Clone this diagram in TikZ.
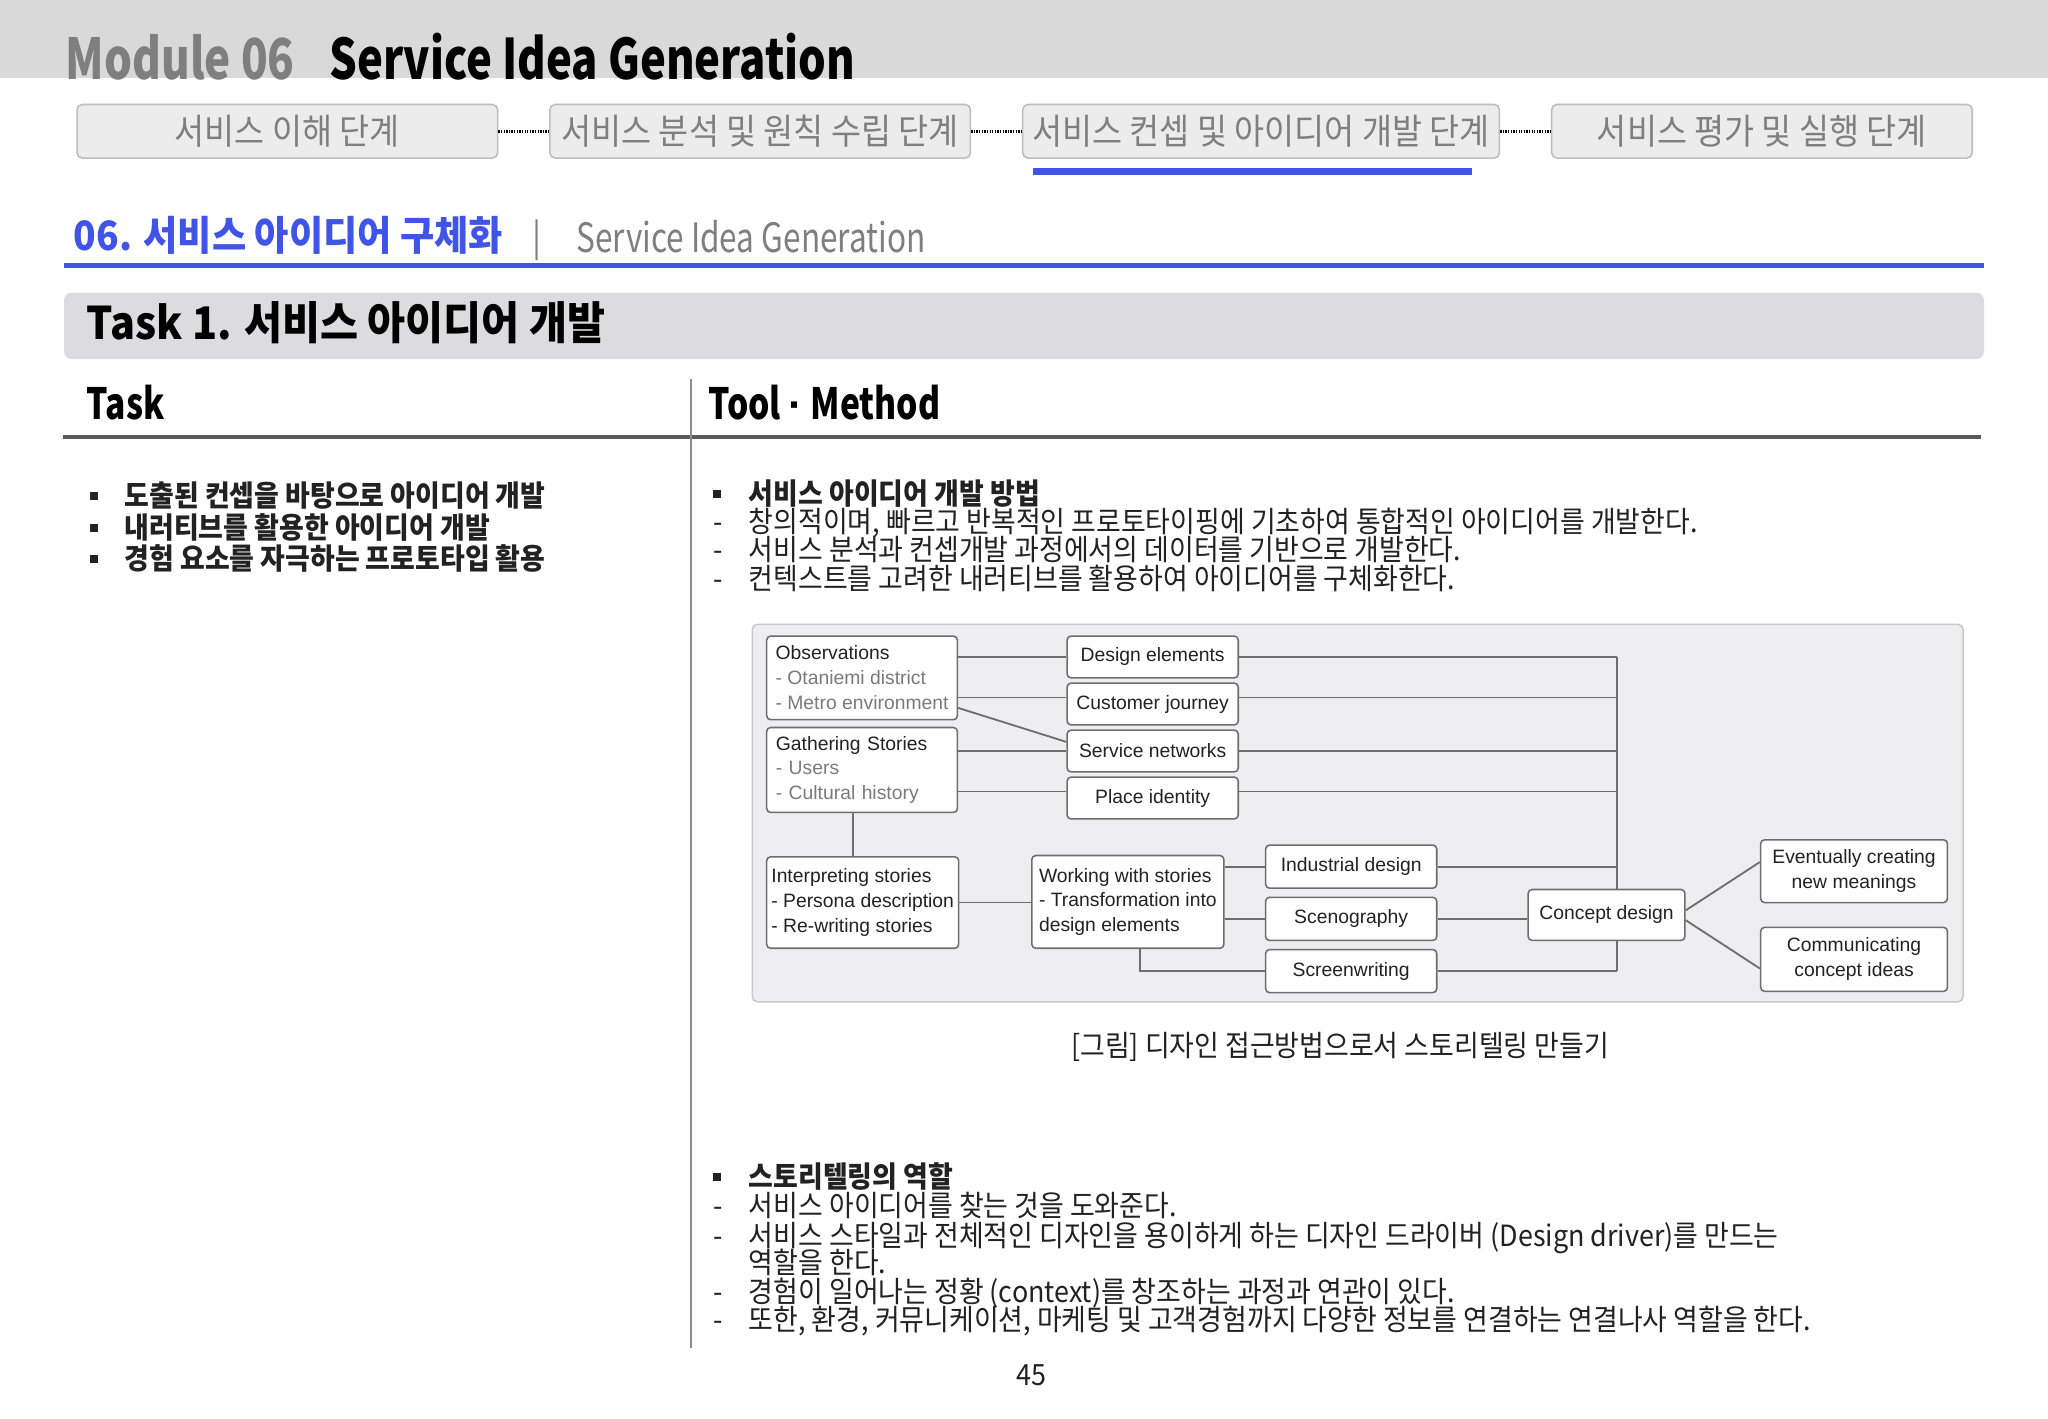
\documentclass[tikz,border=0pt]{standalone}
\usepackage{fontspec}
\setmainfont{Noto Sans CJK KR}[FakeStretch=0.92]
\newfontfamily\condfont{Noto Sans CJK KR}[FakeStretch=0.78]
\newfontfamily\diagfont{Liberation Sans}
\newcommand\myfs[1]{\fontsize{#1}{#1}\selectfont}
\definecolor{bandgray}{HTML}{D9D9D9}
\definecolor{modgray}{HTML}{7F7F7F}
\definecolor{stagefill}{HTML}{ECECEC}
\definecolor{stageborder}{HTML}{BDBDBD}
\definecolor{stagetext}{HTML}{7F7F7F}
\definecolor{accent}{RGB}{64,84,230}
\definecolor{sepgray}{HTML}{7F7F7F}
\definecolor{taskgray}{HTML}{DCDCDE}
\definecolor{rulegray}{HTML}{595959}
\definecolor{vgray}{HTML}{8C8C8C}
\definecolor{txtdark}{HTML}{222222}
\definecolor{panelfill}{HTML}{EEEEF0}
\definecolor{panelborder}{HTML}{C8C8C8}
\definecolor{dline}{HTML}{6E6E6E}
\definecolor{dtext}{HTML}{222222}
\definecolor{subgray}{HTML}{7A7A7A}
\tikzset{
  txt/.style={anchor=base west, inner sep=0pt, text=txtdark},
  body/.style={txt, font=\myfs{11.2}},
  stagebox/.style={draw=stageborder, fill=stagefill, rounded corners=2pt, line width=0.6pt,
    minimum height=20.5pt, inner sep=0pt, text=stagetext, font=\myfs{13.6}},
  dotline/.style={line width=1.2pt, dash pattern=on 0.5pt off 0.5pt},
  dbox/.style={draw=dline, fill=white, rounded corners=1.5pt, line width=0.6pt, inner sep=0pt,
    font=\diagfont\fontsize{7.4}{9.5}\selectfont, text=dtext, align=center},
  conn/.style={draw=dline, line width=0.7pt},
}
\begin{document}
\begin{tikzpicture}[x=0.5pt,y=-0.5pt]
\useasboundingbox (0,0) rectangle (1568,1086);
\fill[white] (0,0) rectangle (1568,1086);
% header band
\fill[bandgray] (0,0) rectangle (1568,60);
\node[txt, font=\condfont\bfseries\myfs{21.6}, text=modgray] (modnum) at (50,61) {Module 06};
\node[txt, font=\condfont\bfseries\myfs{21.4}, text=black] (modtitle) at (252,61) {Service Idea Generation};
% stage boxes
\node[stagebox, minimum width=161pt] (st1) at (220,100.5) {서비스 이해 단계};
\node[stagebox, minimum width=161pt] (st2) at (582,100.5) {서비스 분석 및 원칙 수립 단계};
\node[stagebox, minimum width=182.5pt] (st3) at (965.5,100.5) {서비스 컨셉 및 아이디어 개발 단계};
\node[stagebox, minimum width=161pt] (st4) at (1349,100.5) {서비스 평가 및 실행 단계};
\draw[dotline] (st1.east) -- (st2.west);
\draw[dotline] (st2.east) -- (st3.west);
\draw[dotline] (st3.east) -- (st4.west);
\fill[accent] (791,129) rectangle (1127,134);
% section title
\node[txt, font=\bfseries\myfs{15.5}, text=accent] (sec) at (56,192) {06. 서비스 아이디어 구체화};
\node[txt, font=\myfs{14}, text=sepgray] (secbar) at (407,192) {|};
\node[txt, font=\condfont\myfs{15.5}, text=sepgray] (secen) at (441,193) {Service Idea Generation};
\draw[accent, line width=2pt] (49,203) -- (1519,203);
% task bar
\fill[taskgray, rounded corners=3pt] (49,224) rectangle (1519,275);
\node[txt, font=\bfseries\myfs{17.2}, text=black] (tasktitle) at (66,260) {Task 1. 서비스 아이디어 개발};
% column headers
\node[txt, font=\condfont\bfseries\myfs{16.5}, text=black] (hdtask) at (66,321.5) {Task};
\node[txt, font=\condfont\bfseries\myfs{16.5}, text=black] (hdtool) at (542,321.5) {Tool {\diagfont\bfseries ·} Method};
\draw[line width=1.5pt, rulegray] (48,334.5) -- (1517,334.5);
\draw[line width=0.5pt, vgray] (529,290) -- (529,1032);
% left bullets
\fill[txtdark] (69,377) rectangle (75,383);
\fill[txtdark] (69,401) rectangle (75,407);
\fill[txtdark] (69,425) rectangle (75,431);
\node[txt, font=\bfseries\myfs{11.2}] (lb1) at (95,388) {도출된 컨셉을 바탕으로 아이디어 개발};
\node[txt, font=\bfseries\myfs{11.2}] (lb2) at (95,412) {내러티브를 활용한 아이디어 개발};
\node[txt, font=\bfseries\myfs{11.2}] (lb3) at (95,436) {경험 요소를 자극하는 프로토타입 활용};
% right block 1
\fill[txtdark] (546,375) rectangle (552,381);
\node[txt, font=\bfseries\myfs{11.2}] (rh1) at (573,386) {서비스 아이디어 개발 방법};
\node[body] (rd1) at (546,408) {-};
\node[body] (rl1) at (573,408) {창의적이며, 빠르고 반복적인 프로토타이핑에 기초하여 통합적인 아이디어를 개발한다.};
\node[body] (rd2) at (546,429) {-};
\node[body] (rl2) at (573,429) {서비스 분석과 컨셉개발 과정에서의 데이터를 기반으로 개발한다.};
\node[body] (rd3) at (546,451) {-};
\node[body] (rl3) at (573,451) {컨텍스트를 고려한 내러티브를 활용하여 아이디어를 구체화한다.};
% diagram panel
\draw[panelborder, fill=panelfill, line width=0.6pt, rounded corners=2pt] (576,478) rectangle (1503,767);
\coordinate (L2) at (0,534);
\coordinate (D1) at (0,542);
\coordinate (D2) at (0,568);
\coordinate (L5) at (0,606);
\coordinate (V1) at (653,0);
\coordinate (V2) at (873,0);
\coordinate (bus) at (1238,0);
\coordinate (E1) at (0,697);
\coordinate (E2) at (0,660);
\coordinate (E3) at (0,704.5);
\coordinate (E4) at (0,741.5);
\node[dbox, align=left, minimum width=73pt, minimum height=32pt] (obs) at (660,519)
  {Observations\\\textcolor{subgray}{- Otaniemi district}\\\textcolor{subgray}{- Metro environment}};
\node[dbox, align=left, text width=66pt, inner xsep=3.5pt, minimum height=32.5pt] (gath) at (660,589.5)
  {Gathering Stories\\\textcolor{subgray}{- Users}\\\textcolor{subgray}{- Cultural history}};
\node[dbox, align=left, minimum width=73.5pt, minimum height=35pt] (interp) at (660.5,691)
  {Interpreting stories\\- Persona description\\- Re-writing stories};
\node[dbox, minimum width=65.5pt, minimum height=16pt] (des) at (882.5,503) {Design elements};
\node[dbox, minimum width=65.5pt, minimum height=16pt] (cust) at (882.5,539) {Customer journey};
\node[dbox, minimum width=65.5pt, minimum height=16pt] (svcn) at (882.5,575) {Service networks};
\node[dbox, minimum width=65.5pt, minimum height=16pt] (place) at (882.5,611) {Place identity};
\node[dbox, align=left, minimum width=73.5pt, minimum height=35.5pt] (work) at (863.5,690.5)
  {Working with stories\\- Transformation into\\design elements};
\node[dbox, minimum width=65.5pt, minimum height=16.5pt] (ind) at (1034.5,663.5) {Industrial design};
\node[dbox, minimum width=65.5pt, minimum height=16.5pt] (scen) at (1034.5,703.5) {Scenography};
\node[dbox, minimum width=65.5pt, minimum height=16.5pt] (scr) at (1034.5,743.5) {Screenwriting};
\node[dbox, minimum width=60pt, minimum height=19.5pt] (concept) at (1230,700.5) {Concept design};
\node[dbox, minimum width=71.5pt, minimum height=24pt] (evt) at (1419.5,667) {Eventually creating\\new meanings};
\node[dbox, minimum width=71.5pt, minimum height=24.5pt] (comm) at (1419.5,734.5) {Communicating\\concept ideas};
% connectors
\draw[conn] (obs.east |- des.west) -- (des.west);
\draw[conn] (obs.east |- L2) -- (cust.west |- L2);
\draw[conn] (obs.east |- D1) -- (svcn.west |- D2);
\draw[conn] (gath.east |- svcn.west) -- (svcn.west);
\draw[conn] (gath.east |- L5) -- (place.west |- L5);
\draw[conn] (gath.south -| V1) -- (interp.north -| V1);
\draw[conn] (interp.east) -- (interp.east -| work.west);
\draw[conn] (work.east |- ind.west) -- (ind.west);
\draw[conn] (work.east |- scen.west) -- (scen.west);
\draw[conn] (work.south -| V2) |- (scr.west);
\draw[conn] (des.east) -- (des.east -| bus);
\draw[conn] (cust.east |- L2) -- (bus |- L2);
\draw[conn] (svcn.east) -- (svcn.east -| bus);
\draw[conn] (place.east |- L5) -- (bus |- L5);
\draw[conn] (ind.east) -- (ind.east -| bus);
\draw[conn] (scr.east) -- (scr.east -| bus);
\draw[conn] (bus |- des.east) -- (bus |- concept.north);
\draw[conn] (bus |- concept.south) -- (bus |- scr.east);
\draw[conn] (scen.east) -- (scen.east -| concept.west);
\draw[conn] (concept.east |- E1) -- (evt.west |- E2);
\draw[conn] (concept.east |- E3) -- (comm.west |- E4);
% caption
\node[anchor=base, inner sep=0pt, font=\myfs{11.2}, text=txtdark] (cap) at (1026,809) {[그림] 디자인 접근방법으로서 스토리텔링 만들기};
% right block 2
\fill[txtdark] (546,898) rectangle (552,904);
\node[txt, font=\bfseries\myfs{11.2}] (rh2) at (573,909) {스토리텔링의 역할};
\node[body] (sd1) at (546,931) {-};
\node[body] (sl1) at (573,931) {서비스 아이디어를 찾는 것을 도와준다.};
\node[body] (sd2) at (546,954) {-};
\node[body] (sl2) at (573,954) {서비스 스타일과 전체적인 디자인을 용이하게 하는 디자인 드라이버 (Design driver)를 만드는};
\node[body] (sl2b) at (573,975) {역할을 한다.};
\node[body] (sd3) at (546,997) {-};
\node[body] (sl3) at (573,997) {경험이 일어나는 정황 (context)를 창조하는 과정과 연관이 있다.};
\node[body] (sd4) at (546,1019) {-};
\node[body] (sl4) at (573,1019) {또한, 환경, 커뮤니케이션, 마케팅 및 고객경험까지 다양한 정보를 연결하는 연결나사 역할을 한다.};
% page number
\node[anchor=base, inner sep=0pt, font=\myfs{11.2}, text=txtdark] (pnum) at (790,1061) {45};
\end{tikzpicture}
\end{document}
